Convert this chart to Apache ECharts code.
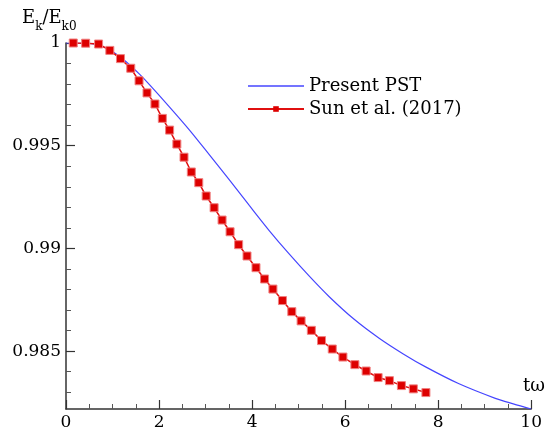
<!DOCTYPE html>
<html>
<head>
<meta charset="utf-8">
<script src="https://cdn.jsdelivr.net/npm/echarts@6/dist/echarts.min.js"></script>
<style>html,body{margin:0;padding:0;background:#fff}#c{width:545px;height:435px}</style>
</head>
<body>
<div id="c"></div>
<script>
// Present PST (blue curve)
const pstT = [0, 0.257, 0.514, 0.728, 0.942, 1.156, 1.370, 1.585, 1.799, 2.227, 2.655, 3.084, 3.512, 3.940, 4.368, 4.797, 5.225, 5.653, 6.188, 6.724, 7.259, 7.730, 8.437, 9.229, 9.615, 10];
const pstE = [1.0, 1.0, 0.99998, 0.99988, 0.99966, 0.99934, 0.99893, 0.99847, 0.99796, 0.99688, 0.99576, 0.99455, 0.99333, 0.99209, 0.99087, 0.98973, 0.98866, 0.98766, 0.98656, 0.98564, 0.98485, 0.98423, 0.98342, 0.98270, 0.98243, 0.98218];
// Sun et al. (2017) (red squares)
const sunT = [0.156, 0.422, 0.700, 0.942, 1.171, 1.392, 1.570, 1.741, 1.912, 2.071, 2.227, 2.383, 2.537, 2.694, 2.854, 3.013, 3.184, 3.355, 3.527, 3.711, 3.891, 4.084, 4.268, 4.448, 4.653, 4.854, 5.054, 5.274, 5.493, 5.724, 5.953, 6.210, 6.452, 6.709, 6.953, 7.210, 7.467, 7.737];
const sunE = [1.0, 0.99999, 0.99995, 0.99964, 0.99924, 0.99877, 0.99816, 0.99757, 0.99703, 0.99633, 0.99576, 0.99508, 0.99444, 0.99372, 0.99320, 0.99255, 0.99198, 0.99138, 0.99081, 0.99018, 0.98963, 0.98906, 0.98851, 0.98802, 0.98746, 0.98692, 0.98647, 0.98601, 0.98551, 0.98510, 0.98471, 0.98434, 0.98403, 0.98371, 0.98356, 0.98332, 0.98316, 0.98298];
const yMajor = [0.985, 0.99, 0.995, 1.0];
const yMinor = [0.983, 0.984, 0.986, 0.987, 0.988, 0.989, 0.991, 0.992, 0.993, 0.994, 0.996, 0.997, 0.998, 0.999];
const xTicks = [0, 2, 4, 6, 8, 10];
const seriesNames = ['Present PST', 'Sun et al. (2017)'];

const FONT = "'DejaVu Serif', 'Liberation Serif', serif";
const axisCol = '#333';
const yMin = 0.98218, yMax = 1.0;

const chart = echarts.init(document.getElementById('c'), null, {renderer: 'canvas'});
chart.setOption({
  backgroundColor: '#fff',
  animation: false,
  textStyle: {fontFamily: FONT},
  grid: {left: 66, right: 12, top: 43, bottom: 26, containLabel: false},
  legend: {
    data: [
      {name: seriesNames[0], icon: 'path://M0,0 L100,0 L100,2.5 L0,2.5 Z'},
      {name: seriesNames[1], itemStyle: {borderWidth: 0}}
    ],
    orient: 'vertical',
    left: 247,
    top: 76,
    padding: 0,
    itemWidth: 56,
    itemHeight: 7,
    itemGap: 3,
    textStyle: {fontFamily: FONT, fontSize: 18, color: '#000', lineHeight: 20}
  },
  xAxis: {
    type: 'value', min: 0, max: 10, interval: 2,
    axisLine: {lineStyle: {color: axisCol, width: 1.5}},
    axisTick: {inside: true, length: 9, lineStyle: {color: axisCol, width: 1.2}},
    minorTick: {show: true, splitNumber: 4, length: 5, lineStyle: {color: '#555', width: 1}},
    splitLine: {show: false},
    axisLabel: {fontFamily: FONT, fontSize: 17, color: '#000', margin: 5,
      customValues: xTicks}
  },
  yAxis: [{
    type: 'value', min: yMin, max: yMax,
    axisLine: {lineStyle: {color: axisCol, width: 1.5}},
    axisTick: {inside: true, length: 9, lineStyle: {color: axisCol, width: 1.2}, customValues: yMajor},
    splitLine: {show: false},
    axisLabel: {fontFamily: FONT, fontSize: 17, color: '#000', margin: 5, customValues: yMajor,
      formatter: v => String(parseFloat(Number(v).toFixed(3)))}
  }, {
    type: 'value', min: yMin, max: yMax, position: 'left',
    axisLine: {show: false},
    axisTick: {inside: true, length: 5, lineStyle: {color: '#555', width: 1}, customValues: yMinor},
    splitLine: {show: false},
    axisLabel: {show: false, customValues: yMinor}
  }],
  graphic: [
    {type: 'text', left: 22, top: 9,
      style: {
        text: '{a|E}{s|k}{a|/E}{s|k0}',
        rich: {
          a: {fontFamily: FONT, fontSize: 18, fill: '#000', lineHeight: 22, verticalAlign: 'top'},
          s: {fontFamily: FONT, fontSize: 12, fill: '#000', lineHeight: 13, verticalAlign: 'top', padding: [12, 0, 0, 0]}
        }
      }},
    {type: 'text', right: 0, top: 377,
      style: {text: 'tω', fontFamily: FONT, fontSize: 18, fill: '#000'}}
  ],
  series: [{
    name: seriesNames[0], type: 'line',
    data: pstT.map((t, i) => [t, pstE[i]]),
    smooth: 0.3, symbol: 'none',
    color: '#4646ff',
    lineStyle: {color: '#4646ff', width: 1.2}
  }, {
    name: seriesNames[1], type: 'line',
    data: sunT.map((t, i) => [t, sunE[i]]),
    symbol: 'rect', symbolSize: 8,
    color: '#dd0000',
    itemStyle: {color: '#dd0000', borderColor: '#f08080', borderWidth: 1},
    lineStyle: {color: '#e01010', width: 1.5}
  }]
});
</script>
</body>
</html>
